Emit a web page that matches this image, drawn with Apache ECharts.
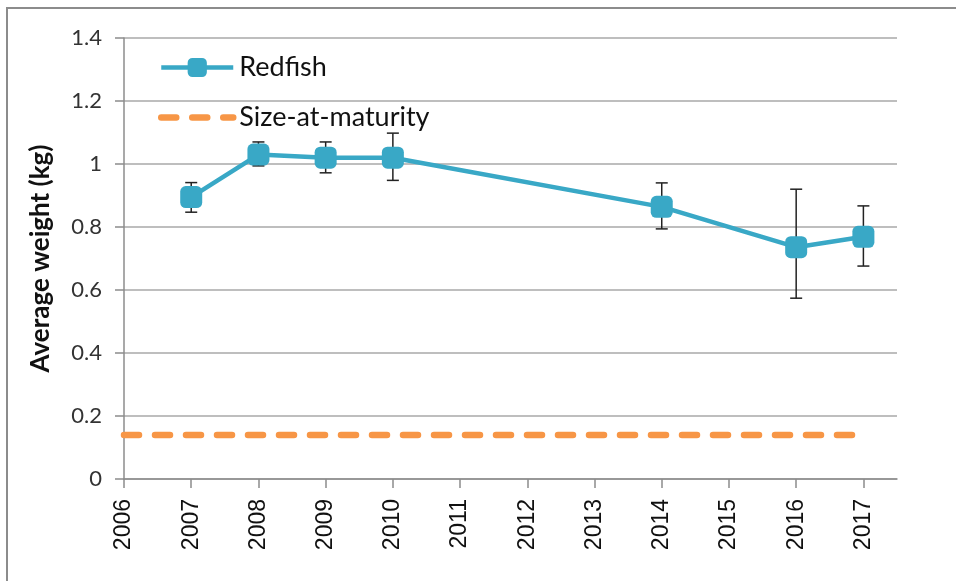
<!DOCTYPE html>
<html>
<head>
<meta charset="utf-8">
<script src="https://cdn.jsdelivr.net/npm/echarts@6/dist/echarts.min.js"></script>
<style>
  html, body { margin: 0; padding: 0; background: #fff; }
  #chart { width: 956px; height: 581px; }
</style>
</head>
<body>
<div id="chart"></div>
<script>
// years on the x axis (tick labels)
var yearTicks = [2006, 2007, 2008, 2009, 2010, 2011, 2012, 2013, 2014, 2015, 2016, 2017];

// redfish average weight (kg) with error bar ends
var fishYears = [2007, 2008, 2009, 2010, 2014, 2016, 2017];
var fishWeight = [0.895, 1.03, 1.02, 1.02, 0.864, 0.736, 0.769];
var fishLow = [0.847, 0.994, 0.972, 0.948, 0.794, 0.574, 0.676];
var fishHigh = [0.941, 1.07, 1.07, 1.098, 0.94, 0.92, 0.867];

// size-at-maturity reference line
var maturityYears = [2006, 2017];
var maturityWeight = [0.14, 0.14];

var chart = echarts.init(document.getElementById('chart'));

var fishData = fishYears.map(function (y, i) { return [y, fishWeight[i]]; });
var errData = fishYears.map(function (y, i) { return [y, fishLow[i], fishHigh[i]]; });
var matData = maturityYears.map(function (y, i) { return [y, maturityWeight[i]]; });

var teal = '#39a8c6';
var orange = '#f79646';
var matLine = { color: orange, width: 6.5, type: [15, 16], cap: 'round' };

chart.setOption({
    animation: false,
    graphic: [{
        type: 'rect',
        shape: { x: 7, y: 8, width: 1000, height: 1000 },
        style: { fill: 'none', stroke: '#8c8c8c', lineWidth: 2 },
        silent: true
    }],
    grid: { left: 124, right: 59, top: 38, bottom: 102 },
    legend: {
        left: 158,
        top: 54,
        padding: 0,
        orient: 'vertical',
        itemWidth: 72,
        itemHeight: 24,
        itemGap: 23,
        textStyle: { fontFamily: 'Lato', fontSize: 27, color: '#111', padding: [0, 0, 0, 1] },
        data: [
            { name: 'Redfish', lineStyle: { width: 4.5, color: teal }, itemStyle: { color: teal } },
            { name: 'Size-at-maturity', lineStyle: matLine, itemStyle: { opacity: 0 } }
        ]
    },
    xAxis: {
        type: 'value',
        min: 2006,
        max: 2017.5,
        interval: 1,
        axisLine: { lineStyle: { color: '#8c8c8c', width: 1.5 } },
        axisTick: { show: true, length: 9, customValues: yearTicks, lineStyle: { color: '#8c8c8c', width: 1.5 } },
        axisLabel: {
            customValues: yearTicks,
            rotate: 90,
            margin: 20,
            fontFamily: 'Liberation Sans',
            fontSize: 23,
            color: '#111',
            formatter: function (v) { return String(v); }
        },
        splitLine: { show: false }
    },
    yAxis: {
        type: 'value',
        min: 0,
        max: 1.4,
        interval: 0.2,
        name: 'Average weight (kg)',
        nameLocation: 'middle',
        nameGap: 70,
        nameTextStyle: { fontFamily: 'Lato', fontWeight: 'bold', fontSize: 26, color: '#111' },
        axisLine: { show: true, lineStyle: { color: '#8c8c8c', width: 1.5 } },
        axisTick: { show: true, length: 9, lineStyle: { color: '#8c8c8c', width: 1.5 } },
        axisLabel: { margin: 22, fontFamily: 'Lato', fontSize: 22, color: '#333' },
        splitLine: { lineStyle: { color: '#a9a9a9', width: 1.5 } }
    },
    series: [
        {
            name: 'errorbars',
            type: 'custom',
            z: 1,
            data: errData,
            encode: { x: 0, y: [1, 2] },
            renderItem: function (params, api) {
                var x = api.value(0);
                var lo = api.coord([x, api.value(1)]);
                var hi = api.coord([x, api.value(2)]);
                var cap = 6;
                var st = { stroke: '#222', lineWidth: 1.5 };
                return {
                    type: 'group',
                    children: [
                        { type: 'line', shape: { x1: lo[0], y1: lo[1], x2: hi[0], y2: hi[1] }, style: st },
                        { type: 'line', shape: { x1: lo[0] - cap, y1: lo[1], x2: lo[0] + cap, y2: lo[1] }, style: st },
                        { type: 'line', shape: { x1: hi[0] - cap, y1: hi[1], x2: hi[0] + cap, y2: hi[1] }, style: st }
                    ]
                };
            }
        },
        {
            name: 'Redfish',
            type: 'line',
            z: 3,
            data: fishData,
            symbol: 'roundRect',
            symbolSize: 22,
            itemStyle: { color: teal },
            lineStyle: { color: teal, width: 4.5 }
        },
        {
            name: 'Size-at-maturity',
            type: 'line',
            z: 2,
            data: matData,
            symbol: 'none',
            itemStyle: { color: orange },
            lineStyle: matLine
        }
    ]
});
</script>
</body>
</html>
